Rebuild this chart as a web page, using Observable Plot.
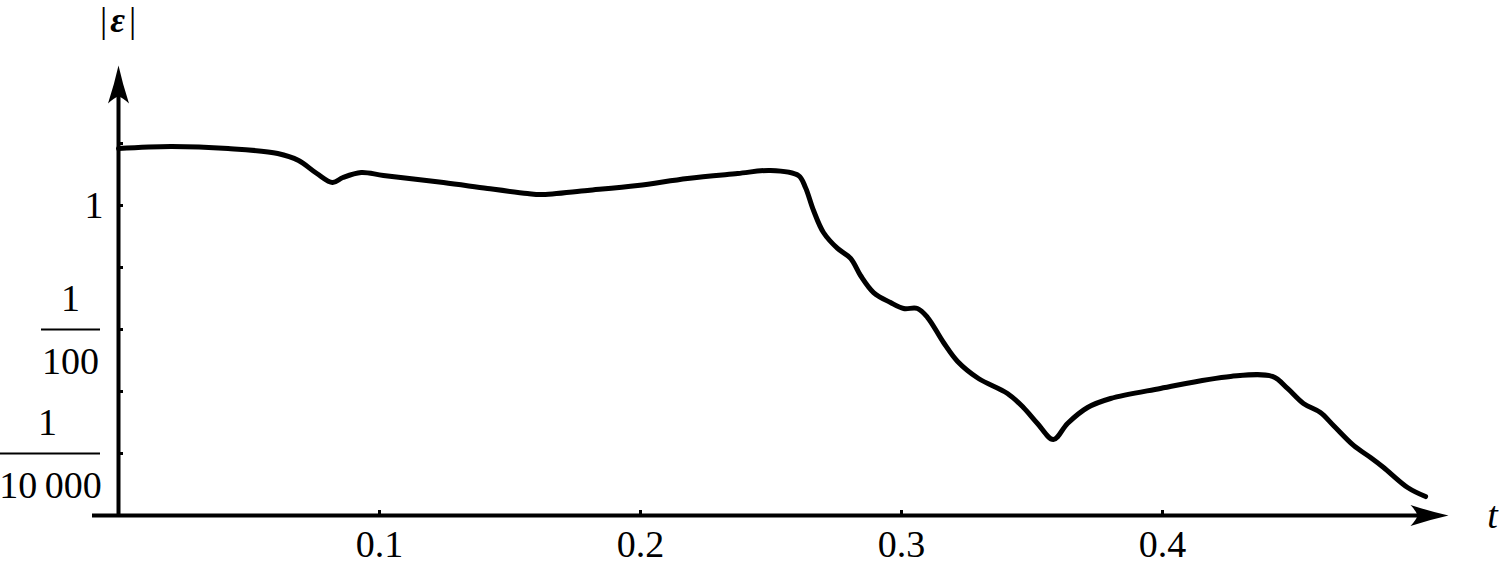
<!DOCTYPE html>
<html>
<head>
<meta charset="utf-8">
<script src="https://cdn.jsdelivr.net/npm/d3@7"></script>
<script src="https://cdn.jsdelivr.net/npm/@observablehq/plot@0.6"></script>
<style>
  html, body { margin: 0; padding: 0; background: white; }
</style>
</head>
<body>
<div id="chart"></div>
<script>
// ---- data ----
const t = [0, 0.020, 0.042, 0.061, 0.069, 0.076, 0.082, 0.086, 0.093, 0.1015,
  0.1245, 0.1414, 0.1567, 0.1617, 0.1797, 0.1989, 0.2180, 0.2372, 0.2498, 0.2605,
  0.2632, 0.2663, 0.2701, 0.2755, 0.2805, 0.2843, 0.2893, 0.2958, 0.3008, 0.3061,
  0.3100, 0.3161, 0.3215, 0.3295, 0.3406, 0.3467, 0.3521, 0.3582, 0.3636, 0.3713,
  0.3801, 0.3992, 0.4261, 0.4421, 0.4479, 0.4540, 0.4605, 0.4655, 0.4732, 0.4797,
  0.4847, 0.4939, 0.5008];
const eps = [8.30, 8.95, 8.30, 6.90, 5.32, 3.28, 2.35, 2.83, 3.41, 3.05,
  2.35, 1.88, 1.56, 1.50, 1.75, 2.10, 2.73, 3.28, 3.67, 3.05,
  1.95, 0.830, 0.367, 0.203, 0.140, 0.0743, 0.0395, 0.0272, 0.0218, 0.0218,
  0.0156, 0.00617, 0.00305, 0.00162, 0.000929, 0.000552, 0.000305, 0.000168, 0.000305, 0.000552,
  0.000771, 0.00112, 0.00175, 0.00175, 0.00112, 0.000640, 0.000458, 0.000283, 0.000135, 0.0000861,
  0.0000595, 0.0000283, 0.0000202];

const xTicks = [0.1, 0.2, 0.3, 0.4];
const xTickLabels = ["0.1", "0.2", "0.3", "0.4"];
const yTicks = [10, 1, 0.1, 0.01, 0.001, 0.0001];
const yLabelPlain = [1];
const yFractions = [{v: 0.01, den: "100"}, {v: 0.0001, den: "10\u2009000"}];

const data = t.map((d, i) => ({t: d, eps: eps[i]}));

// ---- frame geometry ----
const W = 1500, H = 565;
const pxPerUnit = 2610;          // pixels per unit of t
const x0px = 118;                // pixel of t = 0
const yMin = 1e-5;               // bottom of the y axis (x-axis line)
const pxPerDecade = 62;
const marginBottom = 50;
const yTop = yMin * 10 ** ((H - marginBottom) / pxPerDecade);
const tMin = -x0px / pxPerUnit, tMax = (W - x0px) / pxPerUnit;
const tp = p => (p - x0px) / pxPerUnit;   // pixel column -> t
const arrowTipX = tp(1448);
const arrowTipY = yMin * 10 ** ((H - marginBottom - 65) / pxPerDecade);

const arrowHead = {
  draw(ctx) {
    ctx.moveTo(0, 0);
    ctx.quadraticCurveTo(4, 18, 10.5, 38);
    ctx.quadraticCurveTo(4, 32, 0, 31);
    ctx.quadraticCurveTo(-4, 32, -10.5, 38);
    ctx.quadraticCurveTo(-4, 18, 0, 0);
    ctx.closePath();
  }
};

const font = "'Liberation Serif', 'DejaVu Serif', serif";
const fs = 38;

const chart = Plot.plot({
  width: W, height: H,
  marginTop: 0, marginRight: 0, marginLeft: 0, marginBottom,
  style: {background: "white", fontFamily: font, fontSize: "38px", color: "black"},
  x: {domain: [tMin, tMax], axis: null},
  y: {type: "log", domain: [yMin, yTop], axis: null},
  marks: [
    // axes lines
    Plot.ruleY([yMin], {x1: tp(92), x2: arrowTipX - 20 / pxPerUnit, stroke: "black", strokeWidth: 4}),
    Plot.ruleX([0], {y1: yMin, y2: arrowTipY / 10 ** (20 / pxPerDecade), stroke: "black", strokeWidth: 4}),
    Plot.dot([{x: 0, y: arrowTipY}], {x: "x", y: "y", symbol: arrowHead, fill: "black", stroke: "none", r: 5}),
    Plot.dot([{x: arrowTipX, y: yMin}], {x: "x", y: "y", symbol: arrowHead, fill: "black", stroke: "none", r: 5, rotate: 90}),
    // ticks
    Plot.ruleY(yTicks, {y: d => d, x1: 0, x2: 5 / pxPerUnit, stroke: "black", strokeWidth: 3}),
    Plot.ruleX(xTicks, {x: d => d, y1: yMin, y2: yMin * 10 ** (5 / pxPerDecade), stroke: "black", strokeWidth: 3}),
    // x tick labels
    Plot.text(xTicks, {x: d => d, y: yMin, dy: 29, text: (d, i) => xTickLabels[i], fontSize: fs, fill: "black"}),
    // y labels
    Plot.text(yLabelPlain, {x: 0, y: d => d, dx: -15, textAnchor: "end", text: d => String(d), fontSize: fs, fill: "black"}),
    Plot.text(yFractions.slice(0, 1), {x: 0, y: "v", dx: -48, dy: -31, text: () => "1", fontSize: fs, fill: "black"}),
    Plot.text(yFractions.slice(0, 1), {x: 0, y: "v", dx: -48, dy: 32, text: "den", fontSize: fs, fill: "black"}),
    Plot.ruleY(yFractions.slice(0, 1), {y: "v", x1: tp(41), x2: tp(100), stroke: "black", strokeWidth: 2}),
    Plot.text(yFractions.slice(1), {x: 0, y: "v", dx: -71, dy: -31, text: () => "1", fontSize: fs, fill: "black"}),
    Plot.text(yFractions.slice(1), {x: 0, y: "v", dx: -68, dy: 32, text: "den", fontSize: fs, fill: "black"}),
    Plot.ruleY(yFractions.slice(1), {y: "v", x1: tp(0), x2: tp(100), stroke: "black", strokeWidth: 2}),
    // axis titles
    Plot.text(["|"], {x: 0, y: arrowTipY, dx: -15, dy: -45, text: d => d, fontSize: 36, fill: "black"}),
    Plot.text(["\u03B5"], {x: 0, y: arrowTipY, dx: -1, dy: -45, text: d => d, fontSize: 36, fontStyle: "italic", fontWeight: "bold", fill: "black"}),
    Plot.text(["|"], {x: 0, y: arrowTipY, dx: 14, dy: -45, text: d => d, fontSize: 36, fill: "black"}),
    Plot.text(["t"], {x: arrowTipX, y: yMin, dx: 44, dy: 0, text: d => d, fontSize: 38, fontStyle: "italic", fill: "black"}),
    // the curve
    Plot.line(data, {x: "t", y: "eps", stroke: "black", strokeWidth: 5, curve: "catmull-rom", strokeLinejoin: "round"})
  ]
});

document.getElementById("chart").appendChild(chart);
</script>
</body>
</html>
